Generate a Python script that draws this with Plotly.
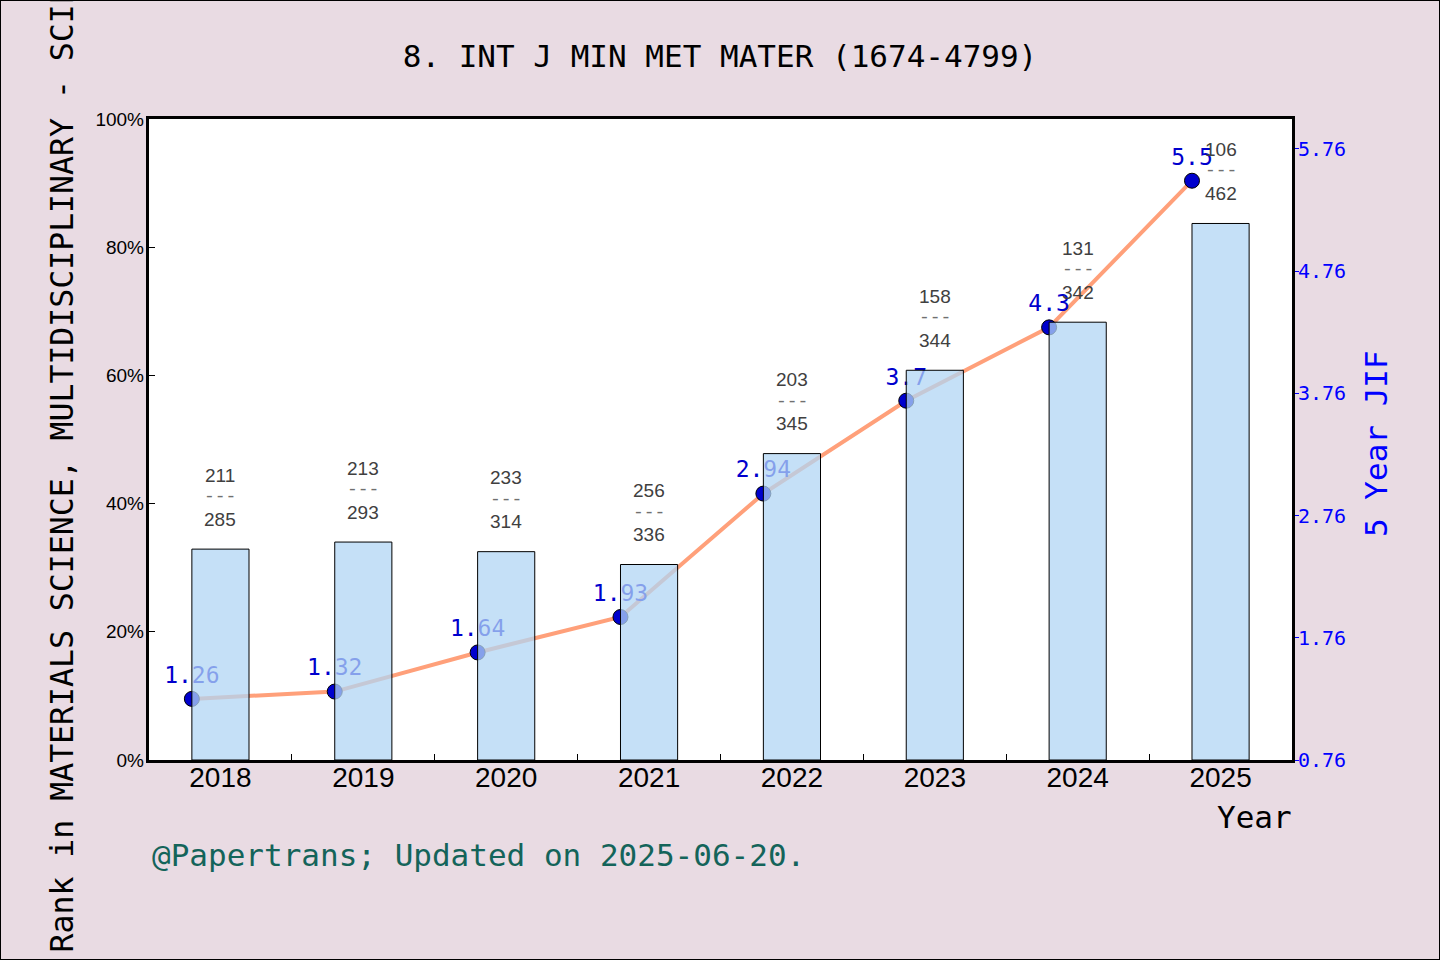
import plotly.graph_objects as go

years = ["2018", "2019", "2020", "2021", "2022", "2023", "2024", "2025"]
rank_pct = [32.9, 34.0, 32.5, 30.5, 47.8, 60.8, 68.3, 83.7]
jif = [1.26, 1.32, 1.64, 1.93, 2.94, 3.7, 4.3, 5.5]
rank = [211, 213, 233, 256, 203, 158, 131, 106]
total = [285, 293, 314, 336, 345, 344, 342, 462]
jif_ticks = [0.76, 1.76, 2.76, 3.76, 4.76, 5.76]
pct_ticks = [0, 20, 40, 60, 80, 100]

W, H = 1440, 960
L, R, T, B = 149, 148, 119, 200
PW, PH = W - L - R, H - T - B

MONO = "DejaVu Sans Mono"
SANS = "Liberation Sans"

idx = list(range(len(years)))
line_x = [i - 0.2 for i in idx]

fig = go.Figure()

fig.add_trace(go.Scatter(
    x=line_x, y=jif, mode="lines+markers+text",
    text=[f"{v:g}" for v in jif], textposition="top center",
    textfont=dict(family=MONO, size=23, color="mediumblue"),
    line=dict(color="lightsalmon", width=4),
    marker=dict(color="mediumblue", size=15, line=dict(color="black", width=1)),
    yaxis="y", xaxis="x", showlegend=False, cliponaxis=False,
))

fig.add_trace(go.Bar(
    x=idx, y=rank_pct, width=0.4,
    marker=dict(color="rgba(177,213,244,0.75)", line=dict(color="black", width=1)),
    yaxis="y2", xaxis="x", showlegend=False,
))

annotations = []
for i in idx:
    annotations.append(dict(x=i, y=rank_pct[i], xref="x", yref="y2", yshift=30,
                            text=str(total[i]), showarrow=False, yanchor="middle",
                            font=dict(family=SANS, size=19, color="#404040")))
    annotations.append(dict(x=i, y=rank_pct[i], xref="x", yref="y2", yshift=52,
                            text="---", showarrow=False, yanchor="middle",
                            font=dict(family="Liberation Mono", size=18, color="#707070")))
    annotations.append(dict(x=i, y=rank_pct[i], xref="x", yref="y2", yshift=74,
                            text=str(rank[i]), showarrow=False, yanchor="middle",
                            font=dict(family=SANS, size=19, color="#404040")))

def px_x(p):
    return (p - L) / PW

def px_y(p):
    return (H - B - p) / PH

annotations.append(dict(x=px_x(62), y=px_y(955), xref="paper", yref="paper",
                        text="Rank in MATERIALS SCIENCE, MULTIDISCIPLINARY - SCIE",
                        textangle=-90, showarrow=False, xanchor="center", yanchor="bottom",
                        font=dict(family=MONO, size=31.5, color="black")))
annotations.append(dict(x=px_x(1376), y=px_y(444), xref="paper", yref="paper",
                        text="5 Year JIF", textangle=-90, showarrow=False,
                        xanchor="center", yanchor="middle",
                        font=dict(family=MONO, size=31, color="blue")))
annotations.append(dict(x=px_x(1254), y=px_y(817), xref="paper", yref="paper",
                        text="Year", showarrow=False, xanchor="center", yanchor="middle",
                        font=dict(family=MONO, size=31, color="black")))
annotations.append(dict(x=px_x(150), y=px_y(855), xref="paper", yref="paper",
                        text="@Papertrans; Updated on 2025-06-20.", showarrow=False,
                        xanchor="left", yanchor="middle",
                        font=dict(family=MONO, size=31, color="#14645a")))

fig.update_layout(
    width=W, height=H,
    margin=dict(l=L, r=R, t=T, b=B, autoexpand=False),
    paper_bgcolor="#e9dbe3", plot_bgcolor="white",
    title=dict(text="8. INT J MIN MET MATER (1674-4799)", x=0.5, xanchor="center",
               y=1 - 56 / H, yanchor="middle", yref="container",
               font=dict(family=MONO, size=31, color="black")),
    xaxis=dict(range=[-0.5, 7.5], tickmode="array", tickvals=idx, ticktext=years,
               ticks="", showgrid=False, zeroline=False, ticklabelstandoff=-10,
               showline=True, linecolor="black", linewidth=3, mirror=True,
               tickfont=dict(family=SANS, size=28, color="black"),
               minor=dict(tickvals=[i + 0.5 for i in idx[:-1]], ticks="inside",
                          ticklen=6, tickcolor="black", tickwidth=1, showgrid=False)),
    yaxis=dict(side="right", range=[0.76, 6.005], tickmode="array", tickvals=jif_ticks,
               ticktext=[f"{v:.2f}" for v in jif_ticks], ticks="outside", ticklen=4,
               tickcolor="blue", showgrid=False, zeroline=False, ticklabelstandoff=-5,
               showline=True, linecolor="black", linewidth=3, mirror=True,
               tickfont=dict(family=MONO, size=20, color="blue")),
    yaxis2=dict(side="left", overlaying="y", range=[0, 100], tickmode="array",
                tickvals=pct_ticks, ticktext=[f"{v}%" for v in pct_ticks],
                ticks="inside", ticklen=6, tickcolor="black", showgrid=False,
                zeroline=False, showline=False, ticklabelstandoff=4,
                tickfont=dict(family=SANS, size=19, color="black")),
    annotations=annotations,
    shapes=[dict(type="rect", xref="paper", yref="paper",
                 x0=-L / PW, x1=1 + R / PW, y0=-B / PH, y1=1 + T / PH,
                 line=dict(color="black", width=2), fillcolor="rgba(0,0,0,0)", layer="below")],
)

fig.write_html("out.html")
